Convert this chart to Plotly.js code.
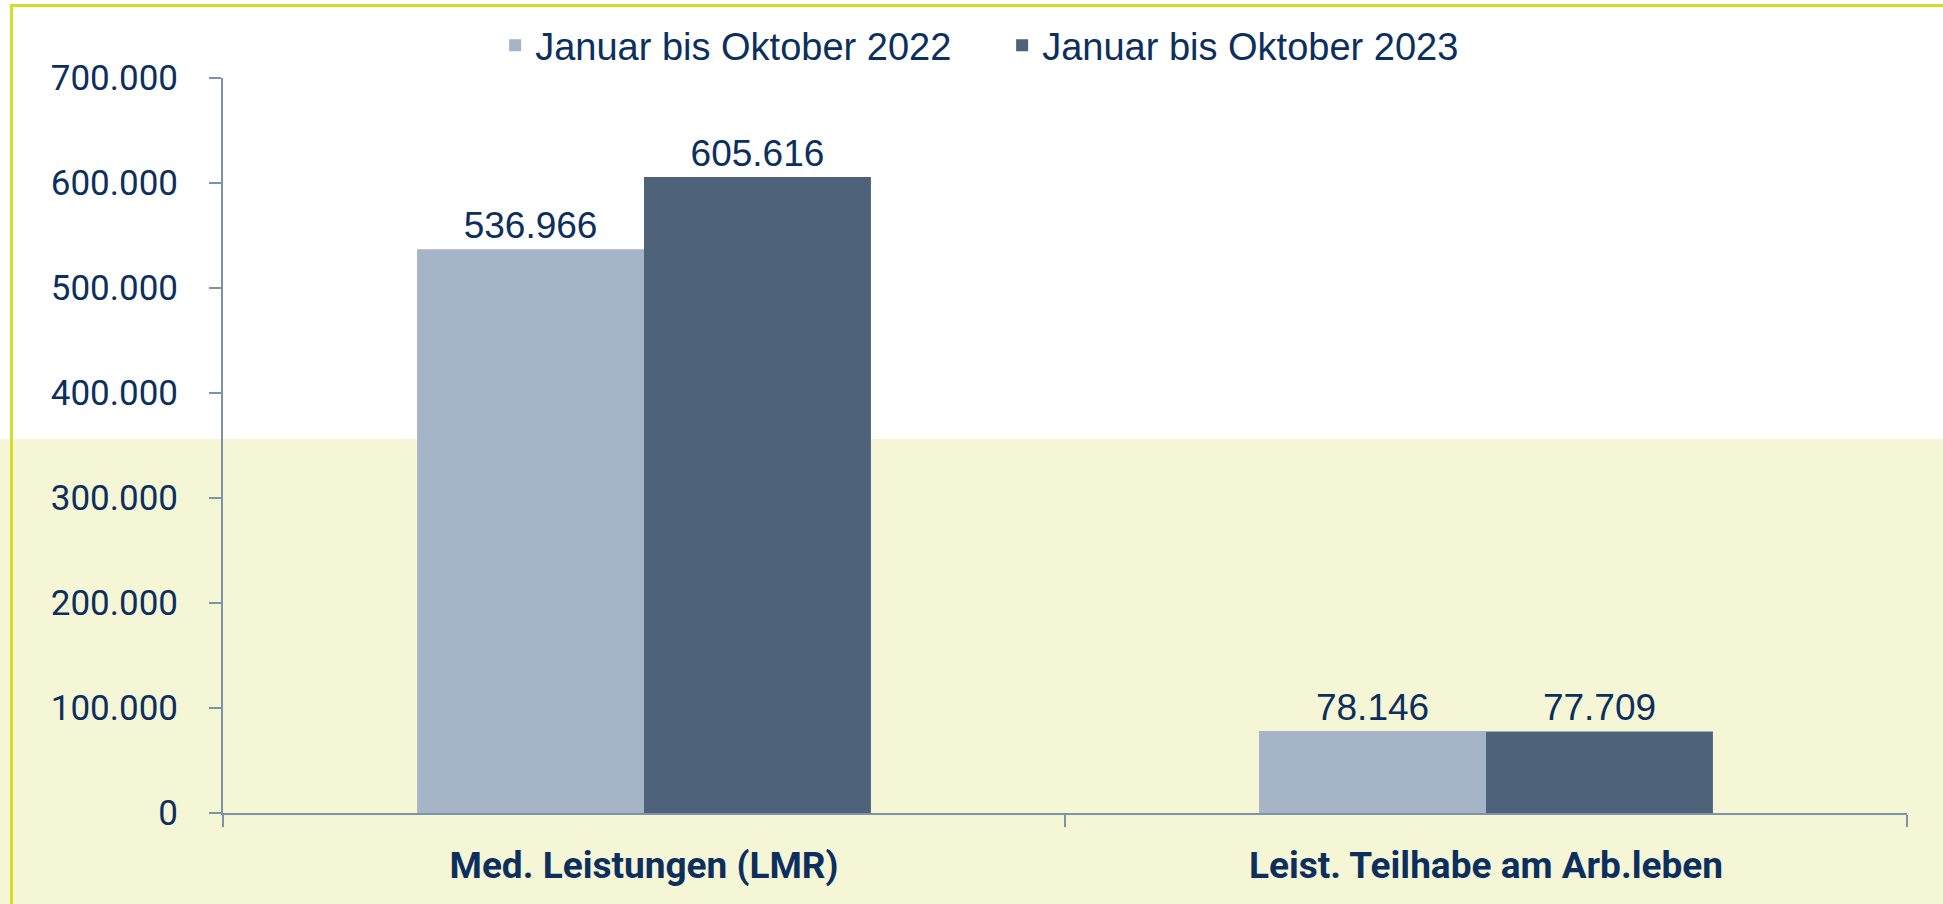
<!DOCTYPE html>
<html>
<head>
<meta charset="utf-8">
<script src="https://cdn.plot.ly/plotly-3.0.1.min.js"></script>
<style>
html, body { margin: 0; padding: 0; background: #ffffff; }
#chart { width: 1943px; height: 904px; }
</style>
</head>
<body>
<div id="chart"></div>
<script>
// ---- data ----
const categories = ["Med. Leistungen (LMR)", "Leist. Teilhabe am Arb.leben"];
const seriesNames = ["Januar bis Oktober 2022", "Januar bis Oktober 2023"];
const values2022 = [536966, 78146];
const values2023 = [605616, 77709];
const yTickValues = [0, 100000, 200000, 300000, 400000, 500000, 600000, 700000];

// ---- styles ----
const navy = "#0c2f5e";
const axisColor = "#7d92ab";
const lightBar = "#a6b4c7";
const darkBar = "#4e6279";
const bandColor = "#f5f6d6";
const borderColor = "#d5dd2b";

function barTrace(name, values, color) {
  return {
    type: "bar",
    name: name,
    x: categories,
    y: values,
    marker: { color: color, line: { width: 0 } },
    texttemplate: "%{y:,.0f}",
    textposition: "outside",
    constraintext: "none",
    cliponaxis: false,
    textfont: { family: "Liberation Sans, Arial, sans-serif", size: 37, color: navy },
    hoverinfo: "skip"
  };
}

const data = [
  barTrace(seriesNames[0], values2022, lightBar),
  barTrace(seriesNames[1], values2023, darkBar)
];

const layout = {
  width: 1943,
  height: 904,
  margin: { l: 223, r: 36, t: 78, b: 91, pad: 0 },
  paper_bgcolor: "#ffffff",
  plot_bgcolor: "rgba(0,0,0,0)",
  separators: ",.",
  barmode: "group",
  bargap: 0.461,
  bargroupgap: 0,
  showlegend: true,
  legend: {
    orientation: "h",
    x: 0.1616,
    xanchor: "left",
    y: 1.044,
    yanchor: "middle",
    entrywidth: 462,
    entrywidthmode: "pixels",
    font: { family: "Liberation Sans, Arial, sans-serif", size: 38, color: navy },
    bgcolor: "rgba(0,0,0,0)",
    traceorder: "normal"
  },
  xaxis: {
    type: "category",
    showline: true,
    linecolor: axisColor,
    linewidth: 2,
    ticks: "outside",
    tickson: "boundaries",
    ticklen: 12,
    tickwidth: 2,
    tickcolor: axisColor,
    showgrid: false,
    zeroline: false,
    ticklabelstandoff: 19,
    tickfont: { family: "Roboto, sans-serif", size: 37, weight: 700, color: navy },
    fixedrange: true
  },
  yaxis: {
    range: [0, 700000],
    tickvals: yTickValues,
    tickformat: ",.0f",
    showline: true,
    linecolor: axisColor,
    linewidth: 2,
    ticks: "outside",
    ticklen: 12,
    tickwidth: 2,
    tickcolor: axisColor,
    showgrid: false,
    zeroline: false,
    ticklabelstandoff: 24,
    tickfont: { family: "Roboto, sans-serif", size: 35, color: navy },
    fixedrange: true
  },
  shapes: [
    // lower light-yellow background band
    { type: "rect", xref: "paper", yref: "paper", x0: -0.14, x1: 1.03, y0: 0.5088, y1: -0.14,
      fillcolor: bandColor, line: { width: 0 }, layer: "below" },
    // left frame line
    { type: "line", xref: "paper", yref: "paper", x0: -0.1256, x1: -0.1256, y0: 1.0986, y1: -0.14,
      line: { color: borderColor, width: 3 }, layer: "below" },
    // top frame line
    { type: "line", xref: "paper", yref: "paper", x0: -0.1265, x1: 1.03, y0: 1.0986, y1: 1.0986,
      line: { color: borderColor, width: 3 }, layer: "below" }
  ]
};

Plotly.newPlot("chart", data, layout, { displayModeBar: false, staticPlot: true });
</script>
</body>
</html>
